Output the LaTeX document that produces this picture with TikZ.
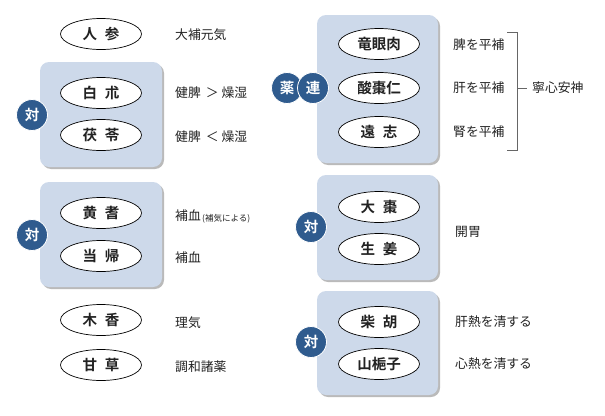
\documentclass[tikz,border=0pt]{standalone}
\usepackage{fontspec}
\setmainfont{Noto Sans CJK JP}
\newfontfamily\jpbold{Noto Sans CJK JP Bold}
\usetikzlibrary{shapes.geometric,shadows}
\definecolor{boxfill}{HTML}{CDD9EA}
\definecolor{badge}{HTML}{2F5B8E}
\definecolor{txt}{HTML}{222222}
\begin{document}
\begin{tikzpicture}[x=1pt,y=-1pt,
  herb/.style={ellipse,draw=black,line width=0.7pt,fill=white,minimum width=81pt,minimum height=31pt,inner sep=0pt,font=\jpbold\fontsize{14.5}{14.5}\selectfont,text=txt},
  grp/.style={rounded corners=9pt,fill=boxfill,draw=none,drop shadow={shadow xshift=2pt,shadow yshift=-2pt,fill=black!45,opacity=0.6}},
  tag/.style={circle,fill=badge,draw=white,line width=0.8pt,minimum size=31pt,inner sep=0pt,text=white,font=\jpbold\fontsize{14.5}{14.5}\selectfont},
  lab/.style={anchor=west,inner sep=0pt,font=\fontsize{12.8}{12.8}\selectfont,text=txt}]
\useasboundingbox (0,0) rectangle (605,415);
% group boxes
\path[grp] (40,62) rectangle (162,167);
\path[grp] (40,182) rectangle (162,287);
\path[grp] (317,15) rectangle (438,163);
\path[grp] (317,175) rectangle (438,280);
\path[grp] (317,291) rectangle (438,395);
% left herbs
\node[herb] (ninjin) at (101,34) {人\hspace{8pt}参};
\node[herb] (byaku) at (101,93) {白\hspace{8pt}朮};
\node[herb] (buku) at (101,135) {茯\hspace{8pt}苓};
\node[herb] (ogi) at (101,213) {黄\hspace{8pt}耆};
\node[herb] (toki) at (101,256) {当\hspace{8pt}帰};
\node[herb] (mokko) at (101,320) {木\hspace{8pt}香};
\node[herb] (kanzo) at (101,365) {甘\hspace{8pt}草};
% right herbs
\node[herb] (ryugan) at (379,44) {竜眼肉};
\node[herb] (sanso) at (379,88) {酸棗仁};
\node[herb] (onji) at (379,132) {遠\hspace{8pt}志};
\node[herb] (taiso) at (379,207) {大\hspace{8pt}棗};
\node[herb] (shokyo) at (379,249) {生\hspace{8pt}姜};
\node[herb] (saiko) at (379,322) {柴\hspace{8pt}胡};
\node[herb] (sanshi) at (379,364) {山梔子};
% badges
\node[tag] (t1) at (32,115) {対};
\node[tag] (t2) at (32,235) {対};
\node[tag] (yaku) at (287,88) {薬};
\node[tag] (ren) at (313,88) {連};
\node[tag] (t4) at (311,227) {対};
\node[tag] (t5) at (311,342) {対};
% left labels
\node[lab] (l1) at (175,35) {大補元気};
\node[lab] (l2) at (175,93) {健脾\hspace{5pt}＞\hspace{3pt}燥湿};
\node[lab] (l3) at (175,137) {健脾\hspace{5pt}＜\hspace{3pt}燥湿};
\node[lab] (l4) at (175,216) {補血};
\node[anchor=west,inner sep=0pt,font=\fontsize{8.5}{8.5}\selectfont,text=txt] (l4b) at ([xshift=1pt,yshift=-3pt]l4.east) {(補気による)};
\node[lab] (l5) at (175,258) {補血};
\node[lab] (l6) at (175,323) {理気};
\node[lab] (l7) at (175,367) {調和諸薬};
% right labels
\node[lab] (r1) at (453,45) {脾を平補};
\node[lab] (r2) at (453,88) {肝を平補};
\node[lab] (r3) at (453,132) {腎を平補};
\node[lab] (r4) at (455,232) {開胃};
\node[lab] (r5) at (455,322) {肝熱を清する};
\node[lab] (r6) at (455,364) {心熱を清する};
\node[lab] (r7) at (532,88) {寧心安神};
% bracket
\coordinate (bt) at (507,32);
\coordinate (bb) at (507,150);
\coordinate (bm) at (517,88);
\coordinate (be) at (527,88);
\draw[line width=1pt,black!60] (bt) -- (517,32) -- (517,150) -- (bb);
\draw[line width=1pt,black!60] (bm) -- (be);
\end{tikzpicture}
\end{document}
